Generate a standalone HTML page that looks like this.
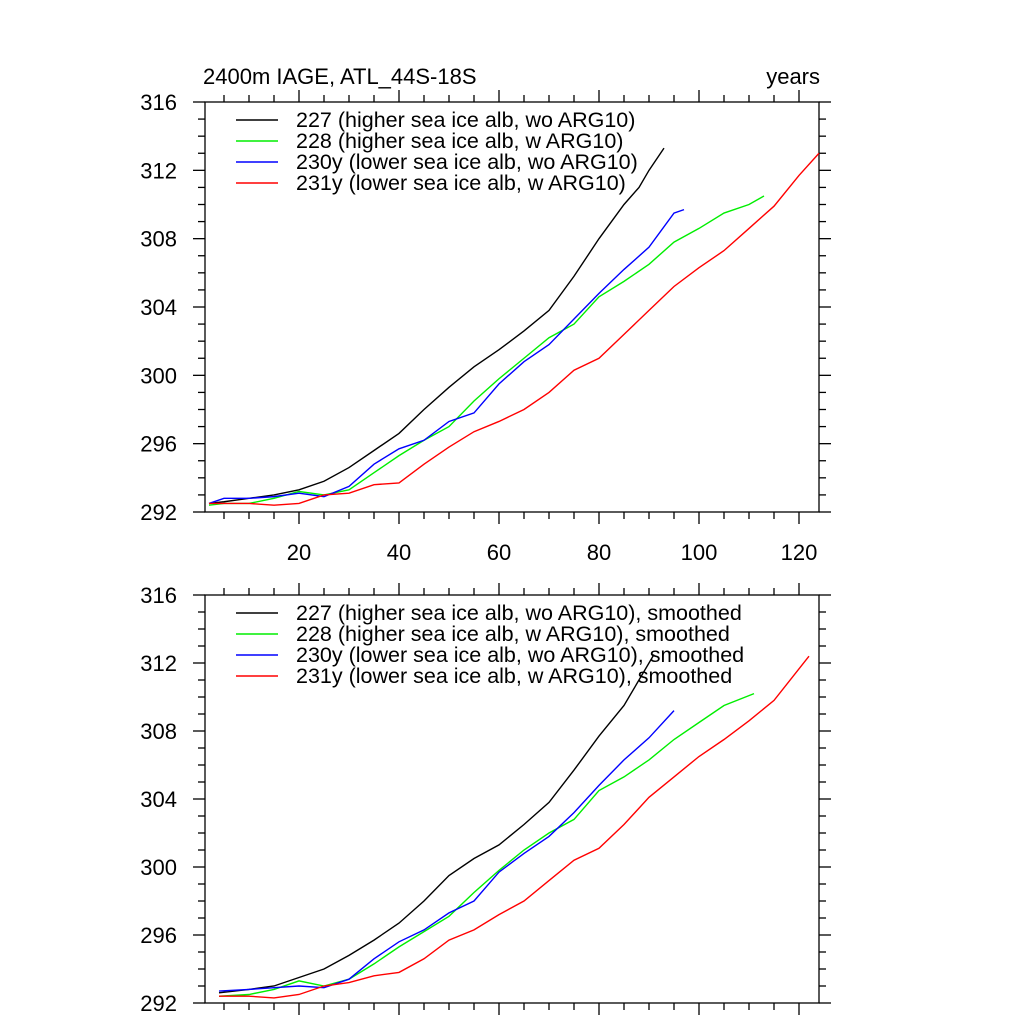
<!DOCTYPE html>
<html><head><meta charset="utf-8"><style>
html,body{margin:0;padding:0;background:#fff}
svg text{font-family:"Liberation Sans",sans-serif}
</style></head><body>
<svg id="chart" width="1024" height="1024" xmlns="http://www.w3.org/2000/svg"></svg>
<script>
const seriesNames=["227 (higher sea ice alb, wo ARG10)","228 (higher sea ice alb, w ARG10)","230y (lower sea ice alb, wo ARG10)","231y (lower sea ice alb, w ARG10)"];
const colors=["#000","#00ee00","#0000ff","#ff0000"];
const yTicks=[292,296,300,304,308,312,316];
const xTicks=[20,40,60,80,100,120];
const topYears=[
[2,5,10,15,20,25,30,35,40,45,50,55,60,65,70,75,80,85,88,90,93],
[2,5,10,15,20,25,30,35,40,45,50,55,60,65,70,75,80,85,90,95,100,105,110,113],
[2,5,10,15,20,25,30,35,40,45,50,55,60,65,70,75,80,85,90,95,97],
[2,5,10,15,20,25,30,35,40,45,50,55,60,65,70,75,80,85,90,95,100,105,110,115,120,124]];
const topVals=[
[292.5,292.6,292.8,293.0,293.3,293.8,294.6,295.6,296.6,298.0,299.3,300.5,301.5,302.6,303.8,305.8,308.0,310.0,311.0,312.0,313.3],
[292.4,292.5,292.5,292.8,293.2,293.0,293.3,294.3,295.3,296.2,297.0,298.5,299.8,301.0,302.2,303.0,304.6,305.5,306.5,307.8,308.6,309.5,310.0,310.5],
[292.5,292.8,292.8,292.9,293.1,292.9,293.5,294.8,295.7,296.2,297.3,297.8,299.5,300.8,301.8,303.3,304.8,306.2,307.5,309.5,309.7],
[292.5,292.5,292.5,292.4,292.5,293.0,293.1,293.6,293.7,294.8,295.8,296.7,297.3,298.0,299.0,300.3,301.0,302.4,303.8,305.2,306.3,307.3,308.6,309.9,311.7,313.0]];
const botYears=[
[4,10,15,20,25,30,35,40,45,50,55,60,65,70,75,80,85,91],
[4,10,15,20,25,30,35,40,45,50,55,60,65,70,75,80,85,90,95,100,105,111],
[4,10,15,20,25,30,35,40,45,50,55,60,65,70,75,80,85,90,95],
[4,10,15,20,25,30,35,40,45,50,55,60,65,70,75,80,85,90,95,100,105,110,115,122]];
const botVals=[
[292.6,292.8,293.0,293.5,294.0,294.8,295.7,296.7,298.0,299.5,300.5,301.3,302.5,303.8,305.7,307.7,309.5,312.5],
[292.4,292.5,292.8,293.3,293.0,293.4,294.3,295.3,296.2,297.1,298.5,299.8,301.0,302.0,302.8,304.5,305.3,306.3,307.5,308.5,309.5,310.2],
[292.7,292.8,292.9,293.0,292.9,293.4,294.6,295.6,296.3,297.3,298.0,299.7,300.8,301.8,303.2,304.8,306.3,307.6,309.2],
[292.4,292.4,292.3,292.5,293.0,293.2,293.6,293.8,294.6,295.7,296.3,297.2,298.0,299.2,300.4,301.1,302.5,304.1,305.3,306.5,307.5,308.6,309.8,312.4]];
const NS="http://www.w3.org/2000/svg";
const svg=document.getElementById('chart');
function mk(tag,at,parent){const e=document.createElementNS(NS,tag);for(const k in at)e.setAttribute(k,at[k]);(parent||svg).appendChild(e);return e;}
const L=205,R=819;
const xs=v=>199+5*v;
function panel(top,bot,years,vals,suffix,showXLabels,pname,legY){
  const g=mk('g',{});
  
  
  const ys=v=>bot-(v-292)*(bot-top)/24;
  const st={stroke:'#000','stroke-width':1.3,fill:'none'};
  mk('rect',Object.assign({x:L,y:top,width:R-L,height:bot-top},st),g);
  for(let v=292;v<=316;v++){const y=ys(v),len=v%4===0?12:7;
    mk('line',Object.assign({x1:L-len,x2:L,y1:y,y2:y},st),g);
    mk('line',Object.assign({x1:R,x2:R+len,y1:y,y2:y},st),g);}
  yTicks.forEach(v=>{const t=mk('text',{x:L-28,y:ys(v)+8,'text-anchor':'end','font-size':22},g);t.textContent=v;
    
    });
  for(let v=5;v<=120;v+=5){const x=xs(v),len=v%20===0?12:7;
    mk('line',Object.assign({x1:x,x2:x,y1:bot,y2:bot+len},st),g);
    mk('line',Object.assign({x1:x,x2:x,y1:top-len,y2:top},st),g);}
  if(showXLabels)xTicks.forEach(v=>{const t=mk('text',{x:xs(v),y:bot+48,'text-anchor':'middle','font-size':22},g);t.textContent=v;
    
    });
  years.forEach((yr,i)=>{
    const p=mk('polyline',{points:yr.map((y,j)=>xs(y)+','+ys(vals[i][j])).join(' '),stroke:colors[i],'stroke-width':1.4,fill:'none'},g);
    
    
    const ly=legY+i*21;
    const ll=mk('line',{x1:236,x2:278,y1:ly,y2:ly,stroke:colors[i],'stroke-width':1.4},g);
    
    
    const t=mk('text',{x:296,y:ly+7,'font-size':21.5},g);t.textContent=seriesNames[i]+suffix;
    
    
  });
}
panel(102,512,topYears,topVals,"",true,'top-panel',120);
panel(595,1003,botYears,botVals,", smoothed",false,'bottom-panel',613);
const t1=mk('text',{x:203,y:84,'font-size':22});t1.textContent="2400m IAGE, ATL_44S-18S";


const t2=mk('text',{x:820,y:84,'font-size':22,'text-anchor':'end'});t2.textContent="years";


</script>
</body></html>
